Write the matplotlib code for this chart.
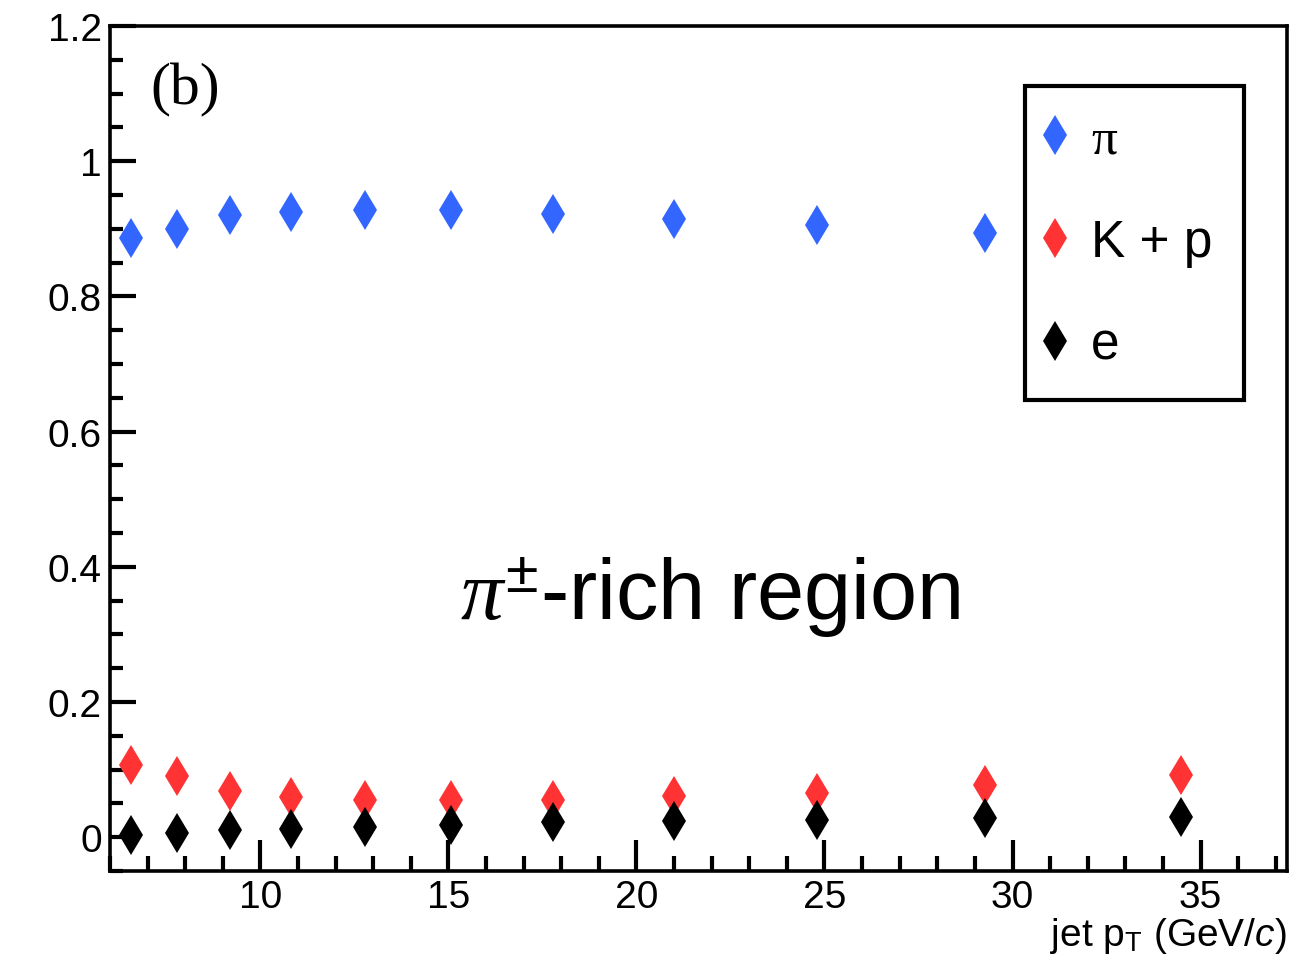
import numpy as np
import matplotlib
matplotlib.use("Agg")
import matplotlib.pyplot as plt
from matplotlib.ticker import MultipleLocator, FuncFormatter

plt.rcParams['font.family'] = ['Liberation Sans', 'DejaVu Sans']
# sans for upright/regular, Times-like italic for greek, sans italic via \mathsf
plt.rcParams['mathtext.fontset'] = 'custom'
plt.rcParams['mathtext.rm'] = 'Liberation Sans'
plt.rcParams['mathtext.it'] = 'Liberation Serif:italic'
plt.rcParams['mathtext.sf'] = 'Liberation Sans:italic'

# jet pT bin centres (GeV/c)
jet_pt = [6.57, 7.79, 9.18, 10.82, 12.79, 15.08, 17.79, 21.01, 24.81, 29.26, 34.49]
# fractions in the pi-rich region
frac_pi = [0.886, 0.900, 0.920, 0.925, 0.928, 0.927, 0.922, 0.914, 0.905, 0.893, 0.880]
frac_kp = [0.106, 0.090, 0.069, 0.059, 0.055, 0.055, 0.055, 0.061, 0.066, 0.077, 0.092]
frac_e = [0.003, 0.006, 0.010, 0.012, 0.015, 0.018, 0.022, 0.024, 0.025, 0.028, 0.030]

blue = '#3366ff'
red = '#ff3333'

fig = plt.figure(figsize=(13.07, 9.62), dpi=100)
ax = fig.add_axes([0.0842, 0.0936, 0.9005, 0.8784])

ms = 20
ax.plot(jet_pt, frac_pi, 'd', color=blue, ms=ms, mew=0, label=u'\u03c0')
ax.plot(jet_pt, frac_kp, 'd', color=red, ms=ms, mew=0, label='K + p')
ax.plot(jet_pt, frac_e, 'd', color='black', ms=ms, mew=0, label='e')

ax.set_xlim(6.0, 37.3)
ax.set_ylim(-0.05, 1.2)

for s in ax.spines.values():
    s.set_linewidth(2.6)

ax.xaxis.set_major_locator(MultipleLocator(5))
ax.xaxis.set_minor_locator(MultipleLocator(1))
ax.yaxis.set_major_locator(MultipleLocator(0.2))
ax.yaxis.set_minor_locator(MultipleLocator(0.05))
ax.yaxis.set_major_formatter(FuncFormatter(lambda v, p: '%g' % round(v, 2)))

ax.tick_params(axis='x', which='major', direction='in', length=22, width=3,
               labelsize=28, pad=6, top=False)
ax.tick_params(axis='x', which='minor', direction='in', length=11, width=3, top=False)
ax.tick_params(axis='y', which='major', direction='in', length=19, width=3,
               labelsize=28, pad=6, right=False)
ax.tick_params(axis='y', which='minor', direction='in', length=9.5, width=3, right=False)

ax.set_xlabel(r'jet p$_{\mathregular{T}}$ (GeV/$\mathsf{c}$)', fontsize=28, loc='right',
              labelpad=0)

ax.text(7.07, 1.085, '(b)', family='Liberation Serif', fontsize=43)
ax.text(21.97, 0.322, r'$\pi^{\mathregular{\pm}}$-rich region', fontsize=61,
        ha='center', va='baseline')

leg = ax.legend(loc='upper left', bbox_to_anchor=(0.777, 0.929), fontsize=37,
                frameon=True, fancybox=False, borderpad=0.6, labelspacing=1.05,
                handlelength=0.0, handletextpad=0.7, borderaxespad=0)
leg.get_frame().set_edgecolor('black')
leg.get_frame().set_linewidth(3)
leg.get_frame().set_alpha(1)
leg.get_texts()[0].set_fontfamily('Liberation Serif')
leg.set_zorder(10)

fig.savefig('out.png', dpi=100)
